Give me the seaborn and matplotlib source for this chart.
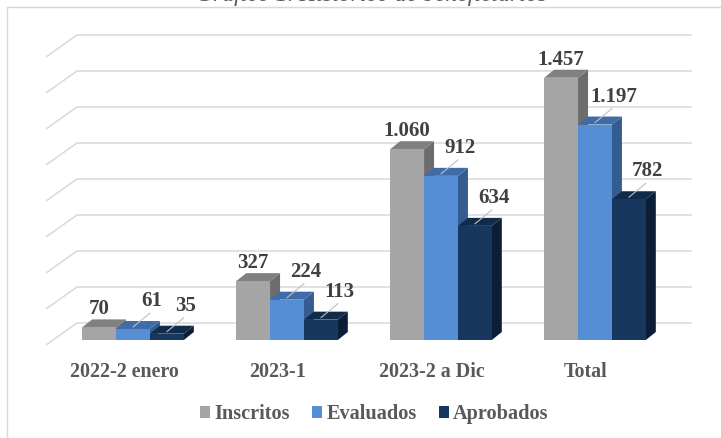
import matplotlib
matplotlib.use("Agg")
import matplotlib.pyplot as plt
import seaborn as sns
import pandas as pd
from matplotlib.patches import Polygon, Patch
from matplotlib.lines import Line2D

# ---------------- data ----------------
categories = ["2022-2 enero", "2023-1", "2023-2 a Dic", "Total"]
series = ["Inscritos", "Evaluados", "Aprobados"]
inscritos = [70, 327, 1060, 1457]
evaluados = [61, 224, 912, 1197]
aprobados = [35, 113, 634, 782]
gridline_values = list(range(0, 1601, 200))
title = "Gráfico 1. Histórico de beneficiarios"

front_colors = ["#A5A5A5", "#558ED5", "#17375E"]
top_colors = ["#808080", "#3F6CA8", "#112B4B"]
side_colors = ["#6C6C6C", "#355C90", "#0C1E37"]

df = pd.DataFrame({
    "categoria": categories * 3,
    "serie": [s for s in series for _ in categories],
    "valor": inscritos + evaluados + aprobados,
})

# ---------------- figure ----------------
sns.set_style("white")
plt.rcParams["font.family"] = ["Liberation Serif", "DejaVu Serif"]

W, H = 721, 438
fig = plt.figure(figsize=(W / 100, H / 100), dpi=100)
ax = fig.add_axes([0, 0, 1, 1])

sns.barplot(data=df, x="categoria", y="valor", hue="serie", hue_order=series,
            order=categories, palette=front_colors, width=0.66, saturation=1,
            legend=False, ax=ax, linewidth=0)

# pixel layout -> data helpers
PXX, X0 = 154.0, 133.0      # px per category, px of first group centre
PXY, Y0 = 0.18, 340.0       # px per unit, px (from top) of value 0 (front)


def xd(px):
    return (px - X0) / PXX


def yd(py):
    return (Y0 - py) / PXY


ax.set_xlim(xd(0), xd(W))
ax.set_ylim(yd(H), yd(0))
ax.axis("off")

# back-wall gridlines with perspective stub
for v in gridline_values:
    ax.plot([xd(46), xd(77), xd(692)],
            [v - 5 / PXY, v + 17 / PXY, v + 17 / PXY],
            color="#D9D9D9", lw=1.1, zorder=1, solid_capstyle="butt")

# 3D faces
ddx, ddy = 10 / PXX, 8 / PXY
for j, cont in enumerate(ax.containers):
    base = 10 + 3 * j
    for i, rect in enumerate(cont):
        x0, w, h = rect.get_x(), rect.get_width(), rect.get_height()
        rect.set_zorder(base + 2)
        top = Polygon([(x0, h), (x0 + w, h), (x0 + w + ddx, h + ddy), (x0 + ddx, h + ddy)],
                      closed=True, facecolor=top_colors[j], edgecolor="none", zorder=base + 1)
        side = Polygon([(x0 + w, 0), (x0 + w, h), (x0 + w + ddx, h + ddy), (x0 + w + ddx, ddy)],
                       closed=True, facecolor=side_colors[j], edgecolor="none", zorder=base)
        ax.add_patch(side)
        ax.add_patch(top)
        cx = x0 + w / 2
        lab = f"{int(h):,}".replace(",", ".")
        if j == 0:
            ax.text(cx, h + 13 / PXY, lab, ha="center", va="baseline", fontsize=15,
                    fontweight="bold", color="#404040", zorder=40)
        else:
            ax.plot([cx, cx + 17 / PXX], [h + 2 / PXY, h + 16 / PXY],
                    color="#BFBFBF", lw=0.8, zorder=39)
            ax.text(cx + 19 / PXX, h + 23 / PXY, lab, ha="center", va="baseline",
                    fontsize=15, fontweight="bold", color="#404040", zorder=40)

# category labels
for i, cat in enumerate(categories):
    ax.text(i - 9 / PXX, yd(377), cat, ha="center", va="baseline", fontsize=14.4,
            fontweight="bold", color="#595959")

# legend
handles = [Patch(facecolor=c, edgecolor="none", label=s) for c, s in zip(front_colors, series)]
fig.legend(handles=handles, loc="center", bbox_to_anchor=(374.5 / W, 1 - 414 / H), ncol=3,
           frameon=False, prop={"weight": "bold", "size": 14.6}, labelcolor="#595959",
           handlelength=0.5, handleheight=0.5, handletextpad=0.2, columnspacing=1.1,
           borderaxespad=0, borderpad=0)

# chart border (only left & top visible)
fig.add_artist(Line2D([7 / W, 7 / W, 1], [0, 1 - 7 / H, 1 - 7 / H], transform=fig.transFigure,
                      color="#D9D9D9", lw=1.0))

# title, clipped at the top edge as in the source
fig.text(372 / W, 1 - 0.5 / H, title, ha="center", va="baseline", fontsize=17,
         style="italic", color="#595959")

fig.savefig("out.png", dpi=100)
